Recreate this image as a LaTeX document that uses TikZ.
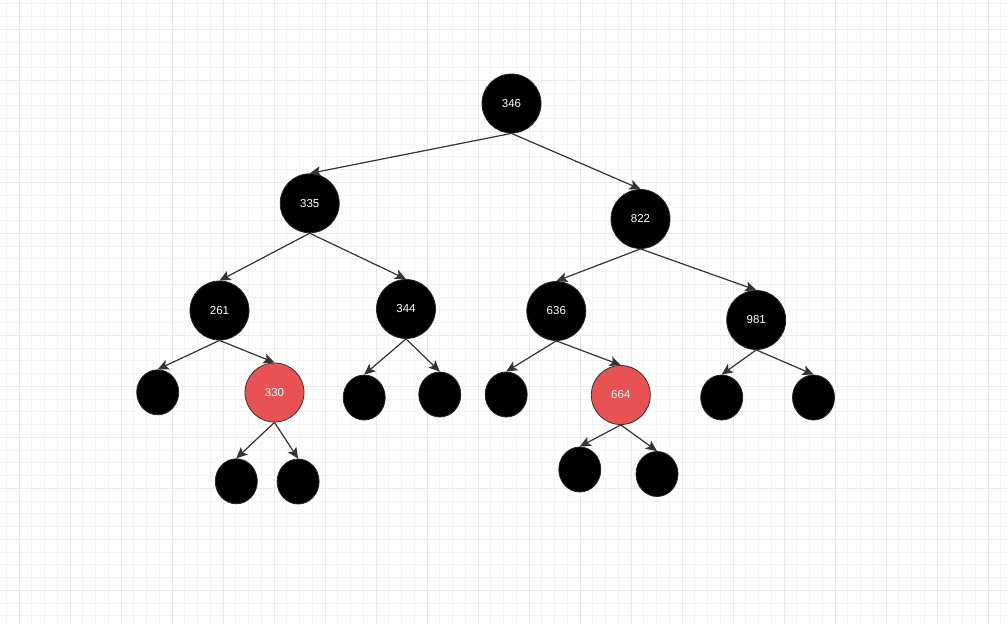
\documentclass[tikz,border=0pt]{standalone}
\usepackage{fontspec}
\setmainfont{Liberation Sans}
\usetikzlibrary{arrows.meta,shapes.geometric}
\definecolor{gridminor}{RGB}{244,244,244}
\definecolor{gridmajor}{RGB}{234,234,234}
\definecolor{rbred}{RGB}{232,82,82}
\definecolor{edgegrey}{RGB}{51,51,51}
\tikzset{
  blacknode/.style={circle, fill=black, draw=black!85, line width=0.8pt, minimum size=59pt, inner sep=0pt, text=white, font=\fontsize{11.5}{13}\selectfont},
  rednode/.style={blacknode, fill=rbred, draw=edgegrey},
  leafnode/.style={ellipse, fill=black, draw=black!85, line width=0.8pt, minimum width=42pt, minimum height=45pt, inner sep=0pt},
  edge/.style={draw=edgegrey, line width=1.2pt, -{Stealth[length=11pt,width=10pt,inset=2.5pt]}}
}
\begin{document}
\begin{tikzpicture}[x=1pt,y=-1pt]
\useasboundingbox (0,0) rectangle (1008,624);
\fill[white] (0,0) rectangle (1008,624);
% grid
\foreach \k in {0,...,79} {
  \draw[gridminor, line width=1pt] ({6.25+12.75*\k},0) -- ({6.25+12.75*\k},624);
}
\foreach \k in {0,...,49} {
  \draw[gridminor, line width=1pt] (0,{3.8+12.75*\k}) -- (1008,{3.8+12.75*\k});
}
\foreach \k in {0,...,19} {
  \draw[gridmajor, line width=1pt] ({19+51*\k},0) -- ({19+51*\k},624);
}
\foreach \k in {0,...,12} {
  \draw[gridmajor, line width=1pt] (0,{29.3+51*\k}) -- (1008,{29.3+51*\k});
}
% nodes
\node[blacknode] (n346) at (511.5,103.5) {346};
\node[blacknode] (n335) at (309.7,203.3) {335};
\node[blacknode] (n822) at (640.5,219) {822};
\node[blacknode] (n261) at (219.5,310.5) {261};
\node[blacknode] (n344) at (406,309) {344};
\node[blacknode] (n636) at (556.3,311) {636};
\node[blacknode] (n981) at (756.2,320) {981};
\node[rednode] (n330) at (274.5,392.5) {330};
\node[rednode] (n664) at (620.8,395) {664};
\node[leafnode] (l1) at (157.7,392.3) {};
\node[leafnode] (l2) at (236.3,481.3) {};
\node[leafnode] (l3) at (298.1,481.5) {};
\node[leafnode] (l4) at (364.2,397.5) {};
\node[leafnode] (l5) at (439.8,394.5) {};
\node[leafnode] (l6) at (506.2,394.5) {};
\node[leafnode] (l7) at (579.8,469.5) {};
\node[leafnode] (l8) at (657,474) {};
\node[leafnode] (l9) at (721.7,397.5) {};
\node[leafnode] (l10) at (813.5,397.5) {};
% edges
\draw[edge] (n346.south) -- (n335.north);
\draw[edge] (n346.south) -- (n822.north);
\draw[edge] (n335.south) -- (n261.north);
\draw[edge] (n335.south) -- (n344.north);
\draw[edge] (n822.south) -- (n636.north);
\draw[edge] (n822.south) -- (n981.north);
\draw[edge] (n261.south) -- (l1.north);
\draw[edge] (n261.south) -- (n330.north);
\draw[edge] (n330.south) -- (l2.north);
\draw[edge] (n330.south) -- (l3.north);
\draw[edge] (n344.south) -- (l4.north);
\draw[edge] (n344.south) -- (l5.north);
\draw[edge] (n636.south) -- (l6.north);
\draw[edge] (n636.south) -- (n664.north);
\draw[edge] (n664.south) -- (l7.north);
\draw[edge] (n664.south) -- (l8.north);
\draw[edge] (n981.south) -- (l9.north);
\draw[edge] (n981.south) -- (l10.north);
\end{tikzpicture}
\end{document}
